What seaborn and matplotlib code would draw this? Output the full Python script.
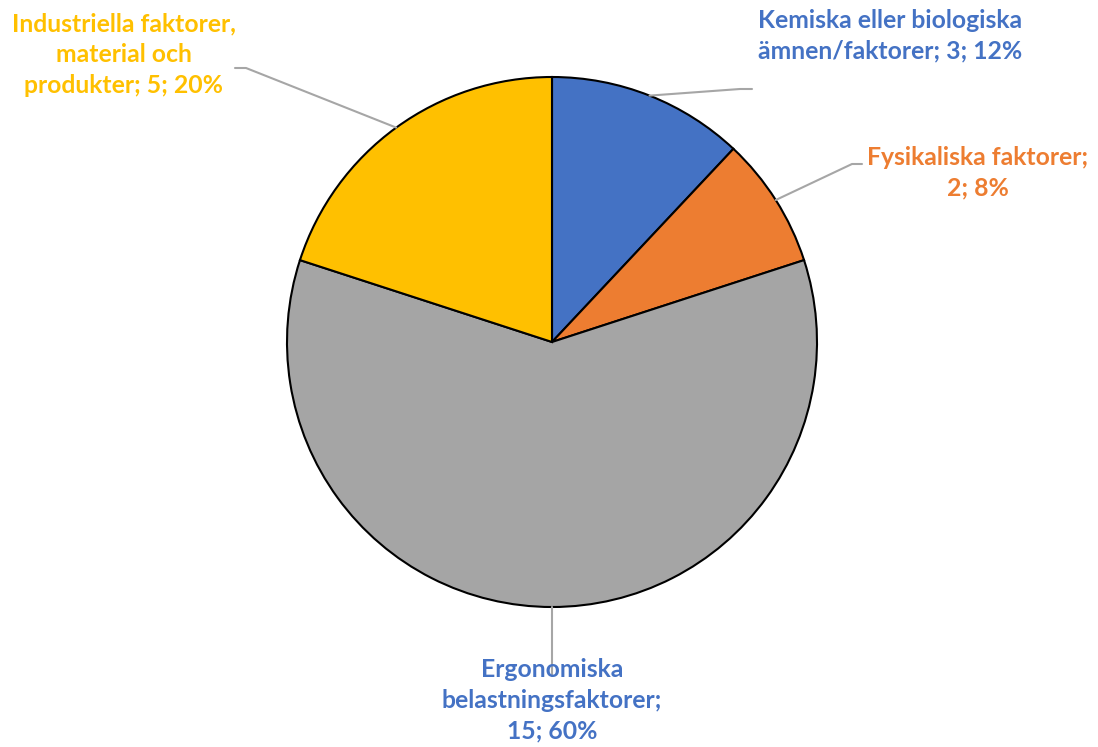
import numpy as np
import matplotlib
matplotlib.use("Agg")
import matplotlib.pyplot as plt
import seaborn as sns

categories = ["Kemiska eller biologiska ämnen/faktorer",
              "Fysikaliska faktorer",
              "Ergonomiska belastningsfaktorer",
              "Industriella faktorer, material och produkter"]
values = [3, 2, 15, 5]
label_texts = ["Kemiska eller biologiska\nämnen/faktorer; 3; 12%",
               "Fysikaliska faktorer;\n2; 8%",
               "Ergonomiska\nbelastningsfaktorer;\n15; 60%",
               "Industriella faktorer,\nmaterial och\nprodukter; 5; 20%"]
colors = ["#4472C4", "#ED7D31", "#A5A5A5", "#FFC000"]
label_colors = ["#4472C4", "#ED7D31", "#4472C4", "#FFC000"]

sns.set_theme(style="white")
plt.rcParams['font.family'] = ['Lato', 'DejaVu Sans']

W, H = 1098, 747
fig = plt.figure(figsize=(W/100, H/100), dpi=100)
ax = fig.add_axes([0, 0, 1, 1])

cx, cy, r = 552, 342, 265
# y axis is inverted (pixel-like coords), so counterclockwise in data = clockwise on screen
wedges, _ = ax.pie(values, colors=sns.color_palette(colors), startangle=-90, counterclock=True,
                   center=(cx, cy), radius=r, frame=True,
                   wedgeprops=dict(edgecolor="black", linewidth=1.5))
ax.set_xlim(0, W)
ax.set_ylim(H, 0)
ax.set_aspect('equal')
ax.axis('off')

# text positions (center of text block) and leader elbow points
text_pos = [(890, 36), (978, 173), (552, 700), (124, 55)]
elbows = [[(740, 89), (752, 89)], [(852, 164), (862, 164)], [], [(246, 68), (235, 68)]]

total = sum(values)
cum = 0
for i, v in enumerate(values):
    mid = 90 - (cum + v / 2) / total * 360
    cum += v
    ex = cx + r * np.cos(np.radians(mid))
    ey = cy - r * np.sin(np.radians(mid))
    pts = [(ex, ey)] + elbows[i]
    if i == 2:
        pts = [(ex, ey), (ex, 676)]
    xs, ys = zip(*pts)
    ax.plot(xs, ys, color="#A6A6A6", lw=1.5, zorder=1)
    ax.text(text_pos[i][0], text_pos[i][1], label_texts[i], ha="center", va="center",
            color=label_colors[i], fontsize=17.8, fontweight="bold", linespacing=1.4, zorder=3)

fig.savefig("out.png", dpi=100)
